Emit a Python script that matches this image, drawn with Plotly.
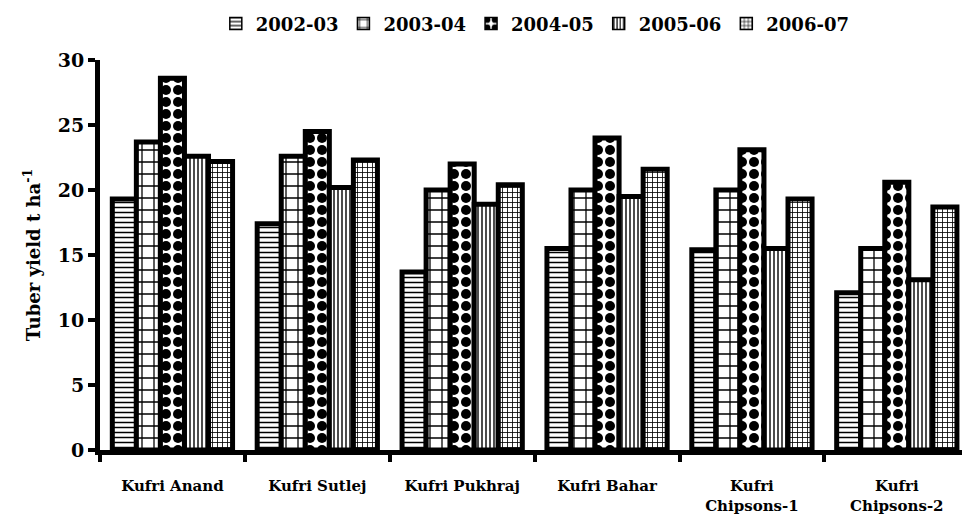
import plotly.graph_objects as go

varieties = ["Kufri Anand", "Kufri Sutlej", "Kufri Pukhraj", "Kufri Bahar",
             "Kufri<br>Chipsons-1", "Kufri<br>Chipsons-2"]
seasons = ["2002-03", "2003-04", "2004-05", "2005-06", "2006-07"]

yield_2002_03 = [19.3, 17.4, 13.7, 15.5, 15.4, 12.1]
yield_2003_04 = [23.7, 22.6, 20.0, 20.0, 20.0, 15.5]
yield_2004_05 = [28.6, 24.5, 22.0, 24.0, 23.1, 20.6]
yield_2005_06 = [22.6, 20.2, 18.9, 19.5, 15.5, 13.1]
yield_2006_07 = [22.2, 22.3, 20.4, 21.6, 19.3, 18.7]

series = [yield_2002_03, yield_2003_04, yield_2004_05, yield_2005_06, yield_2006_07]

# hatch fill for each season
patterns = [
    dict(shape="-", size=5, solidity=0.3, fgcolor="black", bgcolor="white", fgopacity=1),
    dict(shape="+", size=12, solidity=0.2, fgcolor="black", bgcolor="white", fgopacity=1),
    dict(shape=".", size=12, solidity=0.55, fgcolor="black", bgcolor="white", fgopacity=1),
    dict(shape="|", size=4, solidity=0.35, fgcolor="black", bgcolor="white", fgopacity=1),
    dict(shape="+", size=5, solidity=0.3, fgcolor="black", bgcolor="white", fgopacity=1),
]

FONT = "DejaVu Serif"
GROUP = 0.83                      # share of each category taken by its bars
BAR_W = GROUP / len(seasons)

fig = go.Figure()
for i, (name, vals, pat) in enumerate(zip(seasons, series, patterns)):
    # bars, placed side by side inside each category
    fig.add_trace(go.Bar(
        x=varieties, y=vals, name=name, showlegend=False,
        width=BAR_W, offset=-GROUP / 2 + i * BAR_W,
        marker=dict(color="white", pattern=pat,
                    line=dict(color="black", width=5)),
    ))
    # legend key with a thinner outline
    fig.add_trace(go.Bar(
        x=[varieties[0]], y=[None], name=name, showlegend=True,
        marker=dict(color="white", pattern=pat,
                    line=dict(color="black", width=1.5)),
    ))

fig.update_layout(
    width=962, height=516,
    margin=dict(l=100, r=0, t=60, b=66),
    paper_bgcolor="white", plot_bgcolor="white",
    barmode="overlay",
    font=dict(family=FONT, color="black", weight="bold"),
    legend=dict(orientation="h", x=0.505, xanchor="center", y=1.14, yanchor="top",
                font=dict(family=FONT, size=18, color="black", weight="bold"),
                itemwidth=30, tracegroupgap=0),
    xaxis=dict(
        range=[-0.5, 5.45], tickson="boundaries", ticks="outside", ticklen=7,
        tickwidth=4, tickcolor="black", showline=True, linecolor="black",
        linewidth=5, showgrid=False, ticklabelstandoff=18,
        tickfont=dict(family=FONT, size=15, color="black", weight="bold"),
    ),
    yaxis=dict(
        range=[0, 30], tickvals=[0, 5, 10, 15, 20, 25, 30], ticks="outside",
        ticklen=7, tickwidth=4, tickcolor="black", showline=True,
        linecolor="black", linewidth=5, showgrid=False, zeroline=False,
        tickfont=dict(family=FONT, size=19, color="black", weight="bold"),
        title=dict(text="Tuber yield t ha<sup>-1</sup>",
                   font=dict(family=FONT, size=18, color="black", weight="bold"),
                   standoff=14),
    ),
)

fig.write_html("out.html")
